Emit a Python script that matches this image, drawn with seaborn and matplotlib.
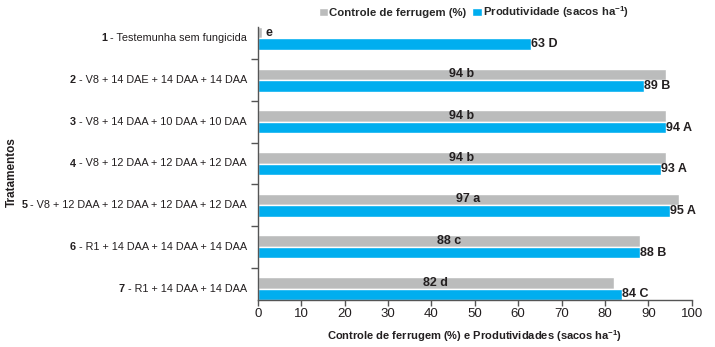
import matplotlib
matplotlib.use("Agg")
import matplotlib.pyplot as plt
import matplotlib.transforms as mtransforms
import seaborn as sns
import pandas as pd
from matplotlib.ticker import FixedLocator

tratamentos = [
    "1 - Testemunha sem fungicida",
    "2 - V8 + 14 DAE + 14 DAA + 14 DAA",
    "3 - V8 + 14 DAA + 10 DAA + 10 DAA",
    "4 - V8 + 12 DAA + 12 DAA + 12 DAA",
    "5 - V8 + 12 DAA + 12 DAA + 12 DAA + 12 DAA",
    "6 - R1 + 14 DAA + 14 DAA + 14 DAA",
    "7 - R1 + 14 DAA + 14 DAA",
]
controle = [1, 94, 94, 94, 97, 88, 82]
controle_letras = ["e", "b", "b", "b", "a", "c", "d"]
produtividade = [63, 89, 94, 93, 95, 88, 84]
produtividade_letras = ["D", "B", "A", "A", "A", "B", "C"]
serie_controle = "Controle de ferrugem (%)"
serie_prod = r"Produtividade (sacos ha$^{\mathregular{-1}}$)"

sns.set_style("white")
plt.rcParams["font.family"] = ["Liberation Sans", "DejaVu Sans"]
plt.rcParams["mathtext.default"] = "regular"
TXT = "#231f20"
AX = "#555555"

df = pd.DataFrame({
    "Tratamento": tratamentos * 2,
    "Valor": controle + produtividade,
    "Serie": [serie_controle] * len(tratamentos) + [serie_prod] * len(tratamentos),
})

fig = plt.figure(figsize=(7.15, 3.47), dpi=100)
ax = fig.add_axes([258 / 715, 1 - 300 / 347, (691.7 - 258) / 715, (300 - 27) / 347])

sns.barplot(data=df, x="Valor", y="Tratamento", hue="Serie",
            hue_order=[serie_controle, serie_prod],
            palette=["#bbbcbc", "#00aeef"], width=0.55, orient="h",
            saturation=1, ax=ax, legend=True)

ax.set_xlim(0, 100)
ax.set_ylim(6.275, -0.275)
ax.set_xticks(range(0, 101, 10))

LBL = 9
gray_c, blue_c = ax.containers[0], ax.containers[1]
ax.bar_label(gray_c, labels=["" if v < 5 else f"{v} {l}" for v, l in zip(controle, controle_letras)],
             label_type="center", fontsize=LBL, fontweight="bold", color=TXT, padding=0)
ax.bar_label(gray_c, labels=[f"{l}" if v < 5 else "" for v, l in zip(controle, controle_letras)],
             label_type="edge", fontsize=LBL, fontweight="bold", color=TXT, padding=2)
ax.bar_label(blue_c, labels=[f"{v} {l}" for v, l in zip(produtividade, produtividade_letras)],
             label_type="edge", fontsize=LBL, fontweight="bold", color=TXT, padding=0)

# y tick labels: bold number + regular description
ax.set_yticks(range(len(tratamentos)))
ax.set_yticklabels([])
ax.set_ylabel("")
YFS = 7.8
trans = mtransforms.blended_transform_factory(ax.transAxes, ax.transData)
offset = mtransforms.ScaledTranslation(-8 / 72, 0, fig.dpi_scale_trans)
rest_texts = []
for i, t in enumerate(tratamentos):
    num, rest = t.split(" - ", 1)
    rt = ax.text(0, i, " - " + rest, transform=trans + offset, ha="right", va="center",
                 fontsize=YFS, color=TXT)
    rest_texts.append((num, rt))
fig.canvas.draw()
renderer = fig.canvas.get_renderer()
for num, rt in rest_texts:
    bb = rt.get_window_extent(renderer)
    fig.text(bb.x0 / fig.bbox.width, (bb.y0 + bb.y1) / 2 / fig.bbox.height, num,
             ha="right", va="center", fontsize=YFS, fontweight="bold", color=TXT)

ax.tick_params(axis="y", which="major", length=0)
ax.yaxis.set_minor_locator(FixedLocator([i + 0.5 for i in range(len(tratamentos) - 1)]))
ax.tick_params(axis="y", which="minor", length=5, width=1, color=AX, direction="out", left=True)
ax.tick_params(axis="x", length=4, width=1, color=AX, direction="out", bottom=True,
               labelsize=9.5, labelcolor=TXT, pad=2)

for s in ["top", "right"]:
    ax.spines[s].set_visible(False)
for s in ["left", "bottom"]:
    ax.spines[s].set_color(AX)
    ax.spines[s].set_linewidth(1)

ax.set_xlabel(r"Controle de ferrugem (%) e Produtividades (sacos ha$^{\mathregular{-1}}$)",
              fontsize=8, fontweight="bold", color=TXT, labelpad=6)
fig.text(12 / 715, 1 - 172 / 347, "Tratamentos", rotation=90, ha="center", va="center",
         fontsize=8.5, fontweight="bold", color=TXT)

handles, labels = ax.get_legend_handles_labels()
ax.get_legend().remove()
fig.legend(handles, labels, loc="center", bbox_to_anchor=(474 / 715, 1 - 12 / 347), ncol=2,
           frameon=False, prop={"weight": "bold", "size": 8.2},
           handlelength=0.8, handleheight=0.8, handletextpad=0.15, columnspacing=0.5,
           borderaxespad=0, borderpad=0)

fig.savefig("out.png", dpi=100)
